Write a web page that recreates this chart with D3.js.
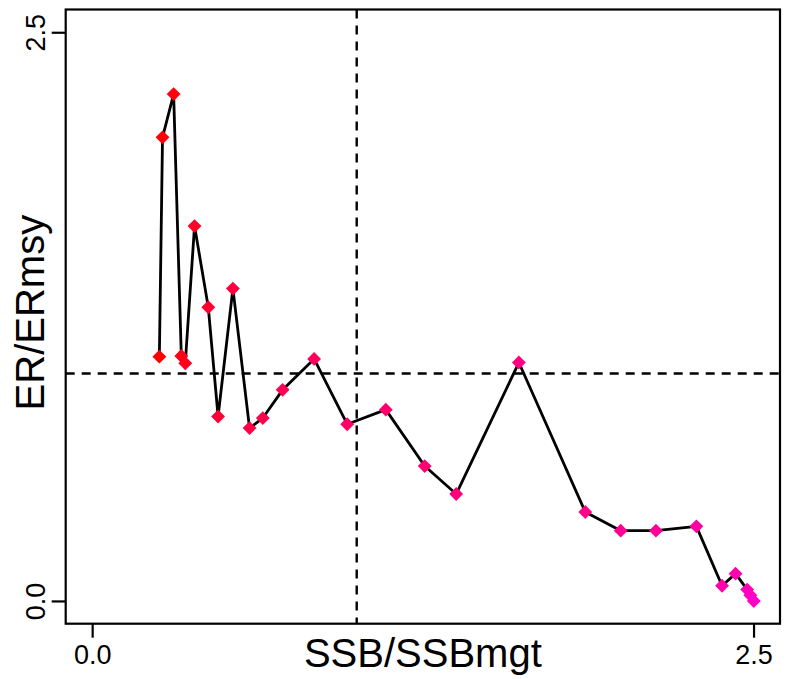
<!DOCTYPE html>
<html>
<head>
<meta charset="utf-8">
<script src="https://cdn.jsdelivr.net/npm/d3@7"></script>
<style>
  html, body { margin: 0; padding: 0; background: #fff; }
  svg { display: block; font-family: "Liberation Sans", Arial, sans-serif; }
</style>
</head>
<body>
<svg id="chart" width="790" height="679"></svg>
<script>
// ---- data ----
const ssbRatio = [0.254, 0.266, 0.308, 0.337, 0.352, 0.387, 0.439, 0.476, 0.532, 0.595,
                  0.645, 0.720, 0.839, 0.964, 1.110, 1.257, 1.376, 1.613, 1.864, 1.998,
                  2.131, 2.284, 2.381, 2.432, 2.476, 2.488, 2.501];
const erRatio  = [1.074, 2.038, 2.228, 1.077, 1.045, 1.648, 1.291, 0.811, 1.373, 0.760,
                  0.804, 0.928, 1.064, 0.777, 0.841, 0.593, 0.470, 1.048, 0.391, 0.309,
                  0.309, 0.328, 0.067, 0.120, 0.050, 0.025, 0.000];
const xTicks = [0, 2.5];
const yTicks = [0, 2.5];
const refX = [1.0];
const refY = [1.0];
const xLabel = "SSB/SSBmgt";
const yLabel = "ER/ERmsy";

const points = ssbRatio.map((v, i) => ({x: v, y: erRatio[i], i}));

const svg = d3.select("#chart");
const L = 65.7, R = 780, T = 9.5, B = 623.7;

const x = d3.scaleLinear().domain([-0.1, 2.6]).range([L, R]);
const y = d3.scaleLinear().domain([-0.1, 2.6]).range([B, T]);
const color = d3.scaleLinear().domain([0, points.length - 1])
  .range(["#ff0000", "#ff00c8"]).interpolate(d3.interpolateRgb);

// reference dashed lines
svg.selectAll("line.refx").data(refX).join("line")
  .attr("x1", d => x(d)).attr("x2", d => x(d))
  .attr("y1", T).attr("y2", B)
  .attr("stroke", "#000").attr("stroke-width", 2.4).attr("stroke-dasharray", "9,7");
svg.selectAll("line.refy").data(refY).join("line")
  .attr("x1", L).attr("x2", R)
  .attr("y1", d => y(d)).attr("y2", d => y(d))
  .attr("stroke", "#000").attr("stroke-width", 2.4).attr("stroke-dasharray", "9,7");

// trajectory line
svg.append("path").datum(points)
  .attr("fill", "none").attr("stroke", "#000").attr("stroke-width", 2.8)
  .attr("stroke-linejoin", "round")
  .attr("d", d3.line().x(d => x(d.x)).y(d => y(d.y)));

// diamond markers
const sym = d3.symbol().type(d3.symbolSquare).size(96);
svg.selectAll("path.pt").data(points).join("path")
  .attr("class", "pt")
  .attr("d", sym)
  .attr("transform", d => `translate(${x(d.x)},${y(d.y)}) rotate(45)`)
  .attr("fill", d => color(d.i));

// box
svg.append("rect").attr("x", L).attr("y", T).attr("width", R - L).attr("height", B - T)
  .attr("fill", "none").attr("stroke", "#000").attr("stroke-width", 2.2);

// axes
const xAxis = svg.append("g").attr("transform", `translate(0,${B})`)
  .call(d3.axisBottom(x).tickValues(xTicks).tickFormat(d3.format(".1f")).tickSize(14).tickPadding(7));
const yAxis = svg.append("g").attr("transform", `translate(${L},0)`)
  .call(d3.axisLeft(y).tickValues(yTicks).tickFormat(d3.format(".1f")).tickSize(14));
[xAxis, yAxis].forEach(g => {
  g.select(".domain").remove();
  g.selectAll(".tick line").attr("stroke", "#000").attr("stroke-width", 2.2);
  g.selectAll(".tick text").attr("fill", "#000").attr("font-size", 27)
    .attr("font-family", "Liberation Sans, Arial, sans-serif");
});
yAxis.selectAll(".tick text")
  .attr("x", null).attr("dy", null)
  .attr("text-anchor", "middle")
  .attr("transform", "translate(-21,0) rotate(-90)");

// axis titles
svg.append("text").attr("x", (L + R) / 2).attr("y", 667)
  .attr("text-anchor", "middle").attr("font-size", 40).attr("fill", "#000")
  .text(xLabel);
svg.append("text")
  .attr("transform", `translate(44,${(T + B) / 2 - 4}) rotate(-90)`)
  .attr("text-anchor", "middle").attr("font-size", 40).attr("fill", "#000")
  .text(yLabel);
</script>
</body>
</html>
